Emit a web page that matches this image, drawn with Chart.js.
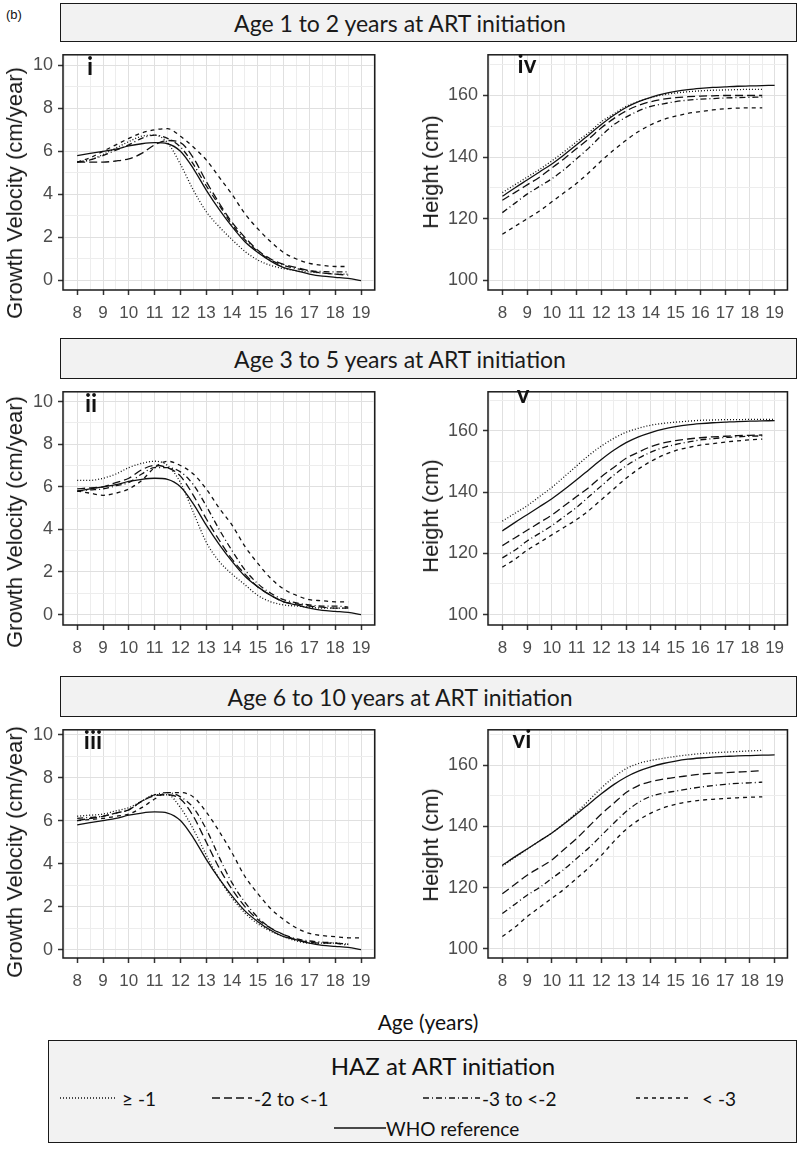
<!DOCTYPE html>
<html><head><meta charset="utf-8">
<script src="https://cdn.jsdelivr.net/npm/chart.js@4.4.1/dist/chart.umd.min.js"></script>
<style>
html,body{margin:0;padding:0;background:#fff;}
body{width:800px;height:1153px;position:relative;overflow:hidden;font-family:"Liberation Sans",Arial,sans-serif;}
.strip{position:absolute;background:#f2f2f2;border:1.5px solid #1a1a1a;box-sizing:border-box;display:flex;align-items:center;justify-content:center;padding-right:57px;font-family:Lato,"Open Sans",sans-serif;font-size:23px;color:#1a1a1a;}
.ytitle{position:absolute;transform:translate(-50%,-50%) rotate(-90deg);white-space:nowrap;font-size:22px;color:#1a1a1a;}
.plabel{position:absolute;transform:translate(-50%,-50%);font-family:Lato,sans-serif;font-weight:bold;font-size:24px;color:#111;line-height:1;}
.txt{position:absolute;white-space:nowrap;font-family:Lato,"Open Sans",sans-serif;color:#111;}
canvas{position:absolute;}
#legend{position:absolute;left:48px;top:1040px;width:749px;height:103px;border:1.5px solid #1a1a1a;background:#f2f2f2;box-sizing:border-box;}
</style></head><body>
<div class="txt" style="left:6px;top:7px;font-family:'Liberation Sans',Arial;font-size:13px;">(b)</div>
<div id="legend"></div>
<script>
// ---------- DATA ----------
const ages = [8,8.5,9,9.5,10,10.5,11,11.5,12,12.5,13,13.5,14,14.5,15,15.5,16,16.5,17,17.5,18,18.5,19];
const xMajorTicks = [8,9,10,11,12,13,14,15,16,17,18,19];
const gvTicks = [0,2,4,6,8,10];
const heightTicks = [100,120,140,160];
const groupNames = ["\u2265 -1", "-2 to <-1", "-3 to <-2", "< -3", "WHO reference"];
const stripTitles = ["Age 1 to 2 years at ART initiation","Age 3 to 5 years at ART initiation","Age 6 to 10 years at ART initiation"];
const panelLabelsGV = ["i","ii","iii"];
const panelLabelsHt = ["iv","v","vi"];

// WHO reference
const gvWHO = [5.8,5.9,6.0,6.1,6.25,6.35,6.4,6.35,6.0,5.2,4.2,3.3,2.5,1.8,1.3,0.9,0.6,0.45,0.3,0.2,0.15,0.1,0.0];
const htWHO = [127.3,130,132.6,135.2,137.8,140.8,144,147.3,150.6,153.6,156.1,158,159.4,160.5,161.3,161.9,162.3,162.6,162.8,163,163.1,163.2,163.3];

// Panel i : growth velocity, age 1-2 at ART
const gv1_ge1  = [5.5,5.6,5.85,6.15,6.45,6.7,6.75,6.4,5.4,4.2,3.2,2.5,1.9,1.35,0.95,0.7,0.55,0.45,0.4,0.35,0.3,0.3];
const gv1_m2   = [5.5,5.5,5.5,5.55,5.65,5.9,6.3,6.5,6.4,5.7,4.6,3.6,2.7,2.0,1.4,1.0,0.75,0.6,0.45,0.35,0.3,0.25];
const gv1_m3   = [5.5,5.6,5.8,6.05,6.3,6.6,6.75,6.6,6.2,5.4,4.4,3.5,2.6,1.9,1.35,0.95,0.7,0.55,0.45,0.42,0.4,0.4];
const gv1_lt3  = [5.5,5.7,6.0,6.3,6.6,6.85,7.0,7.05,6.7,6.2,5.6,4.8,4.0,3.1,2.4,1.8,1.3,1.0,0.8,0.7,0.65,0.65];
// Panel ii : growth velocity, age 3-5
const gv2_ge1  = [6.3,6.3,6.4,6.6,6.9,7.1,7.2,7.0,6.2,4.8,3.4,2.5,1.9,1.4,0.9,0.6,0.45,0.4,0.35,0.3,0.3,0.3];
const gv2_m2   = [5.9,5.95,6.0,6.2,6.4,6.8,7.0,6.9,6.5,5.6,4.5,3.5,2.6,1.9,1.3,0.9,0.6,0.5,0.4,0.35,0.3,0.3];
const gv2_m3   = [5.8,5.85,5.9,6.05,6.2,6.6,6.9,6.9,6.7,6.1,5.1,4.0,3.0,2.1,1.45,1.0,0.7,0.55,0.45,0.4,0.4,0.35];
const gv2_lt3  = [5.8,5.7,5.6,5.7,5.9,6.3,6.9,7.2,7.0,6.6,5.9,5.0,4.2,3.2,2.4,1.7,1.2,0.9,0.7,0.65,0.6,0.6];
// Panel iii : growth velocity, age 6-10
const gv3_ge1  = [6.2,6.25,6.3,6.45,6.6,6.9,7.2,7.2,6.6,5.6,4.4,3.3,2.4,1.7,1.2,0.85,0.6,0.4,0.3,0.3,0.3,0.25];
const gv3_m2   = [6.0,6.1,6.2,6.35,6.5,6.9,7.15,7.2,7.0,6.2,5.0,3.8,2.8,2.0,1.4,1.0,0.7,0.45,0.35,0.3,0.3,0.25];
const gv3_m3   = [6.1,6.15,6.2,6.35,6.5,6.9,7.2,7.3,7.1,6.6,5.6,4.3,3.1,2.2,1.5,1.0,0.7,0.5,0.4,0.35,0.3,0.2];
const gv3_lt3  = [6.0,6.05,6.1,6.2,6.3,6.6,7.0,7.3,7.3,7.1,6.4,5.5,4.5,3.4,2.6,1.9,1.4,1.0,0.75,0.65,0.6,0.55,0.55];
// Panel iv : height, age 1-2
const ht1_ge1  = [128.5,131,133.5,136,138.8,141.8,145,148,151.5,154,156.5,158,159.3,160.2,160.8,161.2,161.5,161.7,161.8,161.9,162,162];
const ht1_m2   = [126,128.5,131,133.5,136.5,139.5,142.8,146,149.5,152.5,155,156.8,158,158.8,159.3,159.6,159.8,159.9,160,160,160,160];
const ht1_m3   = [122,125,128,130.5,133,136,139.5,143,147,150.5,153,155,156.5,157.3,158,158.5,158.8,159,159.2,159.3,159.4,159.5];
const ht1_lt3  = [115,117.5,120,122.5,125.5,128.5,131.5,135,138.8,142.3,145.5,148.3,150.5,152.2,153.3,154.2,154.8,155.3,155.7,155.9,156,156];
// Panel v : height, age 3-5
const ht2_ge1  = [130.5,133,135.5,138.5,141.5,145,148.5,152,155,157.5,159.5,160.8,161.8,162.4,162.8,163.1,163.4,163.5,163.6,163.6,163.7,163.7,163.7];
const ht2_m2   = [122.5,125,127.5,130,132.5,135.5,138.5,141.5,145,148,151,153,154.8,156,156.8,157.3,157.7,158,158.2,158.4,158.5,158.6];
const ht2_m3   = [118.5,121,124,126.5,129,132,135,138.5,142,145.5,148.5,151,153,154.5,155.5,156.3,157,157.4,157.8,158,158.2,158.3];
const ht2_lt3  = [115.5,118,121,123.5,126,128.5,131,134,137.5,141,144.5,147.5,150,152,153.5,154.5,155.3,155.8,156.3,156.7,157,157.3];
// Panel vi : height, age 6-10
const ht3_ge1  = [127,129.8,132.5,135.2,137.8,141,144.5,148.5,152.5,156,158.8,160.5,161.5,162.2,162.8,163.3,163.7,164,164.2,164.4,164.6,164.8];
const ht3_m2   = [118,121,124,126.5,129,132.5,136,140,144,147.5,151,153.3,154.6,155.4,156,156.5,157,157.3,157.5,157.7,157.9,158.2];
const ht3_m3   = [111.5,114.5,117.5,120,123,126,129.5,133,137,141,144.8,147.8,149.8,150.8,151.5,152.2,152.8,153.3,153.7,154,154.2,154.4];
const ht3_lt3  = [104,107,110.5,113.5,116.5,119.5,123,126.5,130.5,135,139,142,144.3,146,147.2,148,148.5,148.8,149.1,149.3,149.5,149.6];

// ---------- LAYOUT / STYLE ----------
const dashes = [[1,2],[8,4],[6,3,1,3],[4,4],[]];
const rows = [
  {stripTop:3,  plotTop:41,  plotBottom:290, gv:[-0.44,10.48], ht:[96.9,173.2], gvTitleY:193, htTitleY:172},
  {stripTop:338,plotTop:378, plotBottom:625, gv:[-0.49,10.46], ht:[96.6,172.7], gvTitleY:522, htTitleY:516},
  {stripTop:676,plotTop:716, plotBottom:958, gv:[-0.39,10.22], ht:[97.0,171.5], gvTitleY:852, htTitleY:845}
];
const cols = [{left:63,right:380,xr:[7.45,19.53]},{left:488,right:793,xr:[7.42,19.52]}];
const gvData = [[gv1_ge1,gv1_m2,gv1_m3,gv1_lt3],[gv2_ge1,gv2_m2,gv2_m3,gv2_lt3],[gv3_ge1,gv3_m2,gv3_m3,gv3_lt3]];
const htData = [[ht1_ge1,ht1_m2,ht1_m3,ht1_lt3],[ht2_ge1,ht2_m2,ht2_m3,ht2_lt3],[ht3_ge1,ht3_m2,ht3_m3,ht3_lt3]];
const panelLabelPos = [[[90,66],[527,64]],[[91,403],[523,394]],[[93,740],[522,739]]];

const borderPlugin = {id:'panelBorder', afterDraw(chart){
  const {ctx, chartArea:a} = chart;
  ctx.save(); ctx.strokeStyle='#1a1a1a'; ctx.lineWidth=1.5;
  ctx.strokeRect(a.left, a.top, a.right-a.left, a.bottom-a.top);
  ctx.restore();
}};

function range(a,b,s){const r=[];for(let v=a;v<=b+1e-9;v+=s)r.push(Math.round(v*100)/100);return r;}

function addDiv(cls, html, style){
  const d=document.createElement('div'); d.className=cls; d.innerHTML=html;
  Object.assign(d.style, style); document.body.appendChild(d); return d;
}

const yW = 60, xH = 32, pad = 2;

function makePanel(r, c, seriesList, yr, gridVals, majorVals){
  const row = rows[r], col = cols[c];
  const plotW = col.right - col.left, plotH = row.plotBottom - row.plotTop;
  const cv = document.createElement('canvas');
  const W = yW + plotW + pad, H = pad + plotH + xH;
  cv.width = W; cv.height = H;
  cv.style.left = (col.left - yW) + 'px'; cv.style.top = (row.plotTop - pad) + 'px';
  cv.style.width = W+'px'; cv.style.height = H+'px';
  document.body.appendChild(cv);
  const xGrid = range(7.5,19.5,0.5);
  const datasets = seriesList.map((vals,i)=>({
    label: groupNames[i],
    data: vals.map((v,k)=>({x:ages[k], y:v})),
    borderColor:'#111', borderWidth:1.3, borderDash:dashes[i],
    pointRadius:0, fill:false, cubicInterpolationMode:'monotone'
  }));
  new Chart(cv, {
    type:'line',
    data:{datasets},
    plugins:[borderPlugin],
    options:{
      responsive:false, animation:false, devicePixelRatio:1,
      layout:{padding:{top:pad,right:pad,left:0,bottom:0}},
      plugins:{legend:{display:false}, tooltip:{enabled:false}},
      scales:{
        x:{type:'linear', min:col.xr[0], max:col.xr[1],
           afterBuildTicks:s=>{s.ticks = xGrid.map(v=>({value:v}));},
           afterFit:s=>{s.height = xH;},
           border:{display:false},
           grid:{color:ctx=>Number.isInteger(ctx.tick.value)?'#e0e0e0':'#ededed', lineWidth:1,
                 tickLength:5, tickColor:ctx=>Number.isInteger(ctx.tick.value)?'#333':'rgba(0,0,0,0)', tickWidth:1.5},
           ticks:{autoSkip:false, maxRotation:0, padding:8, color:'#4d4d4d',
                  font:{family:'"Liberation Sans", Arial', size:17},
                  callback:v=>xMajorTicks.includes(v)?String(v):''}},
        y:{type:'linear', min:yr[0], max:yr[1],
           afterBuildTicks:s=>{s.ticks = gridVals.map(v=>({value:v}));},
           afterFit:s=>{s.width = yW;},
           border:{display:false},
           grid:{color:ctx=>majorVals.includes(ctx.tick.value)?'#e0e0e0':'#ededed', lineWidth:1,
                 tickLength:5, tickColor:ctx=>majorVals.includes(ctx.tick.value)?'#333':'rgba(0,0,0,0)', tickWidth:1.5},
           ticks:{autoSkip:false, padding:5, color:'#4d4d4d',
                  font:{family:'"Liberation Sans", Arial', size:18},
                  callback:v=>majorVals.includes(v)?String(v):''}}
      }
    }
  });
}

rows.forEach((row,r)=>{
  addDiv('strip', stripTitles[r], {left:'60px', top:row.stripTop+'px', width:'737px', height:(row.plotTop-row.stripTop+1)+'px'});
  makePanel(r, 0, [...gvData[r], gvWHO], row.gv, range(0,10,1), gvTicks);
  makePanel(r, 1, [...htData[r], htWHO], row.ht, range(100,170,10), heightTicks);
  addDiv('ytitle','Growth Velocity (cm/year)',{left:'15px', top:row.gvTitleY+'px'});
  addDiv('ytitle','Height (cm)',{left:'431px', top:row.htTitleY+'px'});
  addDiv('plabel', panelLabelsGV[r], {left:panelLabelPos[r][0][0]+'px', top:panelLabelPos[r][0][1]+'px'});
  addDiv('plabel', panelLabelsHt[r], {left:panelLabelPos[r][1][0]+'px', top:panelLabelPos[r][1][1]+'px'});
});

addDiv('txt','Age (years)',{left:'428px', top:'1021px', transform:'translate(-50%,-50%)', fontSize:'21px'});

function legendItem(x1,x2,y,dash,text,tx){
  const svgNS='http://www.w3.org/2000/svg';
  const svg=document.createElementNS(svgNS,'svg');
  svg.setAttribute('width',x2-x1); svg.setAttribute('height',6);
  svg.style.position='absolute'; svg.style.left=x1+'px'; svg.style.top=(y-3)+'px';
  const ln=document.createElementNS(svgNS,'line');
  ln.setAttribute('x1',0); ln.setAttribute('x2',x2-x1); ln.setAttribute('y1',3); ln.setAttribute('y2',3);
  ln.setAttribute('stroke','#111'); ln.setAttribute('stroke-width','1.3');
  if(dash.length) ln.setAttribute('stroke-dasharray',dash.join(' '));
  svg.appendChild(ln); document.body.appendChild(svg);
  addDiv('txt', text.replace(/</g,'&lt;'), {left:tx+'px', top:y+'px', transform:'translateY(-50%)', fontSize:'19px'});
}
addDiv('txt','HAZ at ART initiation',{left:'443px', top:'1065px', transform:'translate(-50%,-50%)', fontSize:'24px'});
legendItem(60,115,1098,dashes[0],groupNames[0],122);
legendItem(212,252,1098,dashes[1],groupNames[1],254);
legendItem(423,480,1098,dashes[2],groupNames[2],482);
legendItem(636,690,1098,dashes[3],groupNames[3],702);
legendItem(334,386,1128,dashes[4],groupNames[4],386);
</script>
</body></html>
